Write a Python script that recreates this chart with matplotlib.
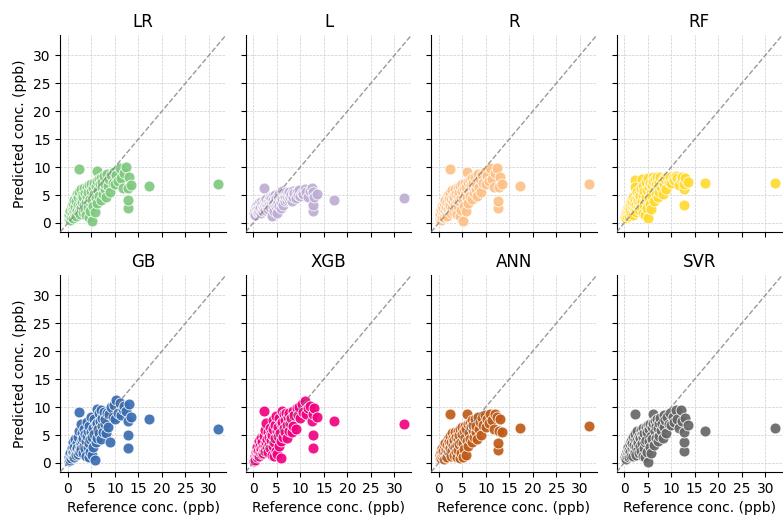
#!/usr/bin/env python3
"""
Predicted vs. reference concentration for the eight regression models,
one scatter panel per model with a 1:1 line.
"""

import matplotlib
matplotlib.use("Agg")
import matplotlib.pyplot as plt


MODEL_NAMES = ["LR", "L", "R", "RF", "GB", "XGB", "ANN", "SVR"]
MODEL_COLORS = ["#7fc97f", "#beaed4", "#fdc086", "#ffd92f",
                "#386cb0", "#f0027f", "#bf5b17", "#666666"]
AXIS_TICKS = [0, 5, 10, 15, 20, 25, 30]

# reference concentrations of the test rows (ppb)
reference = [
    0.2, 0.3, 0.4, 0.5, 0.7, 0.8, 0.9, 1.0, 1.1, 1.2,
    1.3, 1.4, 1.5, 1.6, 1.7, 1.8, 1.9, 2.0, 2.1, 2.2,
    2.3, 2.3, 2.4, 2.5, 2.6, 2.7, 2.8, 2.9, 3.0, 3.1,
    3.2, 3.3, 3.4, 3.5, 3.6, 3.7, 3.8, 3.9, 4.0, 4.1,
    4.2, 4.3, 4.4, 4.5, 4.6, 4.7, 4.8, 4.9, 5.0, 5.1,
    5.2, 5.3, 5.4, 5.5, 5.6, 5.8, 5.9, 6.0, 6.1, 6.2,
    6.3, 6.5, 6.6, 6.7, 6.8, 7.0, 7.1, 7.2, 7.3, 7.5,
    7.7, 7.9, 8.0, 8.2, 8.4, 8.5, 8.7, 9.0, 9.2, 9.5,
    9.8, 10.0, 10.3, 10.6, 11.0, 11.3, 11.7, 12.0, 12.4, 12.7,
    12.7, 12.8, 13.0, 13.5, 17.2, 32.0,
]

# predicted concentrations, same row order as `reference`
pred_lr = [
    0.8, 1.5, 0.5, 2.2, 1.0, 3.1, 1.8, 2.5, 0.9, 3.6,
    2.0, 4.2, 1.4, 2.8, 3.9, 1.2, 5.1, 2.4, 3.3, 4.6,
    9.6, 2.0, 5.5, 3.0, 1.6, 4.4, 6.0, 2.6, 3.8, 5.0,
    1.9, 4.7, 3.2, 6.2, 2.4, 5.3, 3.7, 1.5, 4.9, 6.5,
    2.9, 5.6, 3.9, 1.1, 6.8, 4.3, 2.2, 5.8, 7.0, 0.3,
    4.1, 6.3, 3.0, 7.2, 5.1, 2.0, 6.6, 4.5, 9.3, 7.5,
    3.5, 5.9, 7.8, 4.8, 6.9, 8.1, 4.2, 6.4, 7.3, 5.2,
    8.4, 6.1, 7.0, 4.7, 8.8, 6.6, 7.9, 5.5, 8.6, 7.2,
    9.2, 6.9, 8.5, 7.6, 9.9, 8.0, 6.3, 9.0, 10.0, 2.7,
    4.1, 6.3, 8.3, 6.8, 6.7, 7.0,
]
pred_l = [
    1.8, 2.3, 1.5, 2.9, 2.0, 3.3, 2.5, 1.9, 2.7, 3.5,
    2.2, 3.1, 2.6, 1.7, 3.8, 2.4, 3.4, 2.9, 2.1, 3.6,
    6.3, 2.7, 4.1, 3.0, 2.3, 3.5, 4.3, 2.8, 3.2, 3.9,
    2.5, 4.0, 3.3, 4.6, 2.9, 3.7, 4.4, 1.3, 3.5, 4.8,
    2.8, 4.2, 3.6, 2.2, 5.0, 3.9, 3.0, 4.5, 3.4, 1.8,
    3.7, 4.9, 3.1, 5.2, 4.3, 2.6, 4.7, 3.8, 5.7, 4.4,
    3.3, 4.6, 5.4, 3.9, 4.8, 5.6, 4.1, 4.9, 5.3, 4.3,
    5.5, 4.6, 5.1, 4.0, 5.8, 4.7, 5.3, 4.4, 5.6, 5.0,
    5.9, 4.8, 5.4, 5.1, 6.1, 5.6, 4.6, 5.8, 6.2, 2.1,
    3.2, 5.5, 4.6, 5.1, 4.2, 4.5,
]
pred_r = [
    0.9, 1.6, 0.6, 2.3, 1.1, 3.0, 1.9, 2.6, 1.0, 3.5,
    2.1, 4.1, 1.5, 2.9, 3.8, 1.3, 5.0, 2.5, 3.4, 4.5,
    9.6, 2.1, 5.4, 3.1, 1.7, 4.3, 5.9, 2.7, 3.9, 4.9,
    2.0, 4.6, 3.3, 6.1, 2.5, 5.2, 3.8, 1.6, 4.8, 6.4,
    3.0, 5.5, 4.0, 1.2, 6.7, 4.4, 2.3, 5.7, 6.9, 0.4,
    4.2, 6.2, 3.1, 7.1, 5.0, 2.1, 6.5, 4.6, 9.2, 7.4,
    3.6, 5.8, 7.7, 4.9, 6.8, 8.0, 4.3, 6.3, 7.2, 5.3,
    8.3, 6.0, 7.1, 4.8, 8.7, 6.5, 7.8, 5.6, 8.5, 7.1,
    9.1, 7.0, 8.4, 7.5, 9.8, 7.9, 6.4, 8.9, 9.9, 2.7,
    3.9, 6.4, 8.2, 6.9, 6.7, 7.0,
]
pred_rf = [
    1.0, 1.7, 0.9, 2.4, 1.3, 2.9, 2.0, 2.6, 1.2, 3.4,
    2.2, 3.9, 1.6, 3.0, 3.7, 1.5, 4.6, 2.7, 3.5, 4.3,
    7.7, 2.3, 6.5, 3.2, 1.9, 4.5, 5.6, 2.9, 4.0, 5.1,
    2.4, 4.8, 3.5, 6.3, 2.8, 7.9, 4.0, 1.8, 5.0, 6.6,
    3.2, 5.7, 4.2, 1.5, 7.4, 4.6, 2.6, 5.9, 8.1, 0.9,
    4.4, 6.5, 3.4, 7.2, 5.3, 2.5, 6.8, 4.8, 8.2, 7.5,
    3.9, 6.1, 7.8, 5.2, 7.0, 8.2, 4.6, 6.6, 7.4, 5.6,
    8.3, 6.4, 7.3, 5.2, 8.1, 6.9, 7.9, 6.0, 8.3, 7.4,
    8.2, 7.2, 8.0, 7.7, 8.4, 8.1, 6.8, 7.9, 8.2, 3.3,
    6.0, 6.9, 8.0, 7.3, 7.2, 7.2,
]
pred_gb = [
    0.4, 1.0, 0.6, 1.8, 0.9, 2.6, 1.5, 1.2, 2.0, 3.8,
    1.1, 2.9, 1.8, 4.2, 2.3, 1.4, 3.6, 2.7, 1.6, 4.6,
    9.2, 2.2, 5.7, 2.9, 1.9, 3.5, 6.9, 2.5, 4.1, 5.4,
    1.8, 4.4, 3.1, 6.0, 2.5, 5.2, 3.9, 1.2, 4.8, 7.4,
    2.8, 5.8, 3.6, 1.0, 6.6, 4.2, 2.0, 8.2, 5.5, 1.4,
    4.7, 6.3, 2.9, 7.8, 5.2, 0.5, 6.9, 3.8, 9.6, 7.2,
    4.5, 6.1, 8.9, 5.4, 7.5, 9.4, 4.2, 6.6, 8.0, 5.6,
    9.2, 6.9, 7.8, 5.3, 9.0, 6.4, 8.7, 3.7, 10.0, 8.3,
    10.3, 7.8, 11.2, 9.0, 10.8, 8.5, 9.6, 10.2, 9.3, 2.7,
    5.0, 7.5, 10.5, 8.2, 7.8, 6.1,
]
pred_xgb = [
    0.3, 1.2, 0.5, 2.0, 1.0, 2.8, 1.6, 1.4, 2.2, 4.0,
    1.3, 3.1, 1.9, 4.4, 2.5, 1.6, 3.8, 2.9, 1.8, 4.9,
    9.3, 2.4, 5.9, 3.1, 2.1, 3.7, 7.2, 2.7, 4.3, 5.6,
    2.0, 4.6, 3.3, 6.3, 2.7, 5.4, 4.1, 1.4, 5.0, 7.6,
    3.0, 6.0, 3.8, 1.2, 6.8, 4.4, 2.2, 8.4, 5.7, 1.6,
    4.9, 6.5, 3.1, 8.0, 5.4, 0.8, 7.1, 4.0, 9.3, 7.4,
    4.7, 6.3, 8.7, 5.6, 7.7, 9.0, 4.4, 6.8, 8.2, 5.8,
    9.0, 7.1, 8.0, 5.5, 9.3, 6.6, 8.5, 6.0, 9.8, 8.5,
    10.0, 8.0, 10.5, 9.2, 11.0, 8.7, 9.8, 10.2, 7.5, 2.6,
    5.0, 8.8, 9.8, 8.3, 7.5, 7.0,
]
pred_ann = [
    0.8, 1.4, 0.9, 2.0, 1.2, 2.7, 1.6, 2.2, 0.7, 3.2,
    1.8, 3.6, 1.0, 2.5, 3.3, 1.1, 4.2, 2.1, 2.9, 3.9,
    8.7, 1.7, 4.8, 2.6, 1.3, 3.8, 5.3, 2.3, 3.2, 4.4,
    1.5, 4.1, 2.8, 5.5, 2.0, 4.7, 3.2, 1.0, 4.3, 5.8,
    2.4, 5.0, 3.4, 0.9, 6.1, 3.8, 1.7, 5.2, 6.4, 1.0,
    3.6, 5.7, 2.5, 6.6, 4.5, 1.4, 6.0, 3.9, 8.7, 6.9,
    3.0, 5.3, 7.2, 4.2, 6.4, 7.6, 3.7, 5.9, 6.8, 4.6,
    7.9, 5.6, 6.6, 4.2, 8.2, 6.1, 7.4, 5.0, 8.0, 6.8,
    8.5, 6.5, 7.9, 7.1, 8.8, 7.6, 6.0, 8.7, 8.3, 2.4,
    3.6, 5.8, 7.9, 5.5, 6.2, 6.6,
]
pred_svr = [
    1.0, 1.6, 0.7, 2.2, 1.2, 2.9, 1.8, 2.4, 1.0, 3.4,
    2.0, 3.9, 1.3, 2.7, 3.6, 1.3, 4.7, 2.3, 3.2, 4.3,
    8.8, 1.9, 5.2, 2.8, 1.5, 4.1, 5.7, 2.5, 3.6, 4.8,
    1.7, 4.5, 3.0, 5.9, 2.2, 5.1, 3.5, 1.2, 4.6, 6.2,
    2.6, 5.4, 3.7, 1.0, 6.5, 4.1, 1.9, 5.6, 6.8, 0.2,
    3.9, 6.0, 2.8, 7.0, 4.8, 1.7, 6.4, 4.3, 8.7, 7.2,
    3.3, 5.7, 7.5, 4.5, 6.7, 7.9, 4.0, 6.2, 7.1, 4.9,
    8.1, 5.9, 6.9, 4.5, 8.5, 6.4, 7.6, 5.3, 8.3, 7.0,
    8.9, 6.8, 8.2, 7.4, 9.4, 7.8, 6.2, 9.4, 7.5, 2.2,
    3.7, 5.6, 8.0, 6.8, 5.8, 6.2,
]

PREDICTIONS = [pred_lr, pred_l, pred_r, pred_rf,
               pred_gb, pred_xgb, pred_ann, pred_svr]

# shared limits for both axes so the 1:1 line runs corner to corner
LIMS = (-1.6, 33.6)


def draw_panel(ax, name, color, y_pred):
    ax.scatter(reference, y_pred, s=62, color=color, alpha=0.92,
               edgecolor="white", linewidth=0.6, zorder=2)
    ax.plot(LIMS, LIMS, linestyle="--", color="gray", linewidth=1.0,
            alpha=0.8, zorder=3)
    ax.set_xlim(LIMS)
    ax.set_ylim(LIMS)
    ax.set_xticks(AXIS_TICKS)
    ax.set_yticks(AXIS_TICKS)
    ax.grid(True, linestyle="--", linewidth=0.5, color="#cccccc", zorder=0)
    ax.set_axisbelow(True)
    ax.spines["top"].set_visible(False)
    ax.spines["right"].set_visible(False)
    ax.set_title(name, fontsize=12)


def main():
    fig, axes = plt.subplots(2, 4, figsize=(7.83, 5.18), dpi=100,
                             sharex=True, sharey=True)
    fig.subplots_adjust(left=0.077, right=0.999, top=0.932, bottom=0.089,
                        wspace=0.12, hspace=0.22)

    for ax, name, color, y_pred in zip(axes.flat, MODEL_NAMES,
                                       MODEL_COLORS, PREDICTIONS):
        draw_panel(ax, name, color, y_pred)

    for ax in axes[:, 0]:
        ax.set_ylabel("Predicted conc. (ppb)")
    for ax in axes[1, :]:
        ax.set_xlabel("Reference conc. (ppb)")

    fig.savefig("out.png", dpi=100)
    plt.close(fig)


if __name__ == "__main__":
    main()
